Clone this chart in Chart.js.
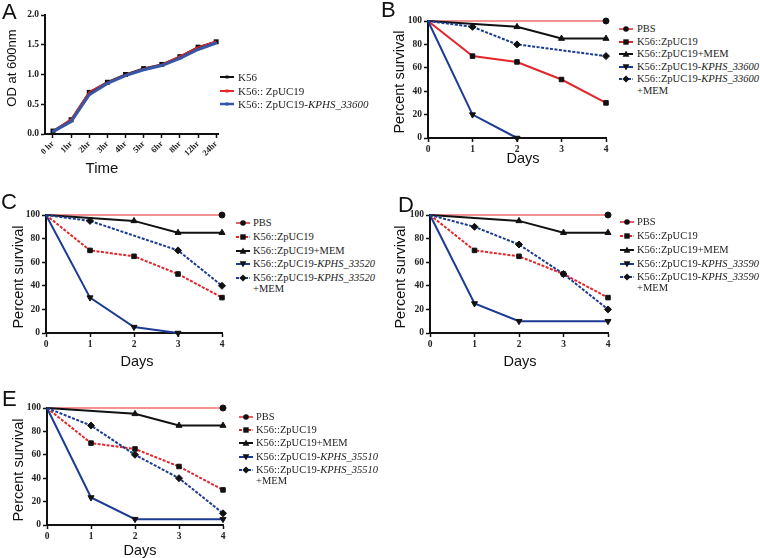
<!DOCTYPE html>
<html lang="en">
<head>
<meta charset="UTF-8">
<title>Growth curve and survival</title>
<script src="https://cdn.jsdelivr.net/npm/chart.js"></script>
<style>
  html, body { margin:0; padding:0; background:#fff; }
  body { width:760px; height:558px; position:relative; overflow:hidden; font-family:'Liberation Sans', Arial, sans-serif; }
  canvas { position:absolute; }
  .letter { position:absolute; font-size:22px; line-height:1; color:#111; }
  .ytitle, .xtitle { position:absolute; white-space:nowrap; line-height:1; color:#111; }
  .ytitle { transform:translate(-50%,-50%) rotate(-90deg); }
  .xtitle { transform:translate(-50%,-50%); }
  .leg { position:absolute; white-space:nowrap; line-height:1; transform:translateY(-50%); color:#222;
         font-family:'Liberation Serif','Times New Roman',serif; }
  svg.mk { position:absolute; }
</style>
</head>
<body>
<script>
// ---- panel A: growth curve ----
const timeLabels = ['0 hr', '1hr', '2hr', '3hr', '4hr', '5hr', '6hr', '8hr', '12hr', '24hr'];
const odK56 = [0.05, 0.24, 0.70, 0.87, 1.00, 1.10, 1.17, 1.30, 1.46, 1.55];
const odZpUC19 = [0.05, 0.25, 0.71, 0.87, 1.00, 1.10, 1.17, 1.31, 1.46, 1.56];
const odKPHS33600 = [0.04, 0.21, 0.66, 0.85, 0.98, 1.08, 1.15, 1.27, 1.42, 1.53];
const odTicks = [0, 0.5, 1.0, 1.5, 2.0];

// ---- panels B-E: survival (null = no mark, line continues) ----
const days = [0, 1, 2, 3, 4];
const survTicks = [0, 20, 40, 60, 80, 100];
const pbs = [100, null, null, null, 100];
const zpuc19 = [100, 70, 65, 50, 30];
const zpuc19Mem = [100, null, 95, 85, 85];
const kphs33600 = [100, 20, 0, null, null];
const kphs33600Mem = [100, 95, 80, null, 70];
const kphs33520 = [100, 30, 5, 0, null];
const kphs33520Mem = [100, 95, null, 70, 40];
const kphs33590 = [100, 25, 10, null, 10];
const kphs33590Mem = [100, 90, 75, 50, 20];
const kphs35510 = [100, 23.5, 5, null, 5];
const kphs35510Mem = [100, 85, 60, 40, 10];

const RED = '#e3262c', NAVY = '#1c3b92', INK = '#111';
const SERIF = "'Liberation Serif','Times New Roman',serif";
const TICK_FONT = { family: SERIF, size: 9.5, weight: 'bold' };

function addDiv(cls, html, x, y, size) {
    let d = document.createElement('div');
    d.className = cls;
    d.innerHTML = html;
    d.style.left = x + 'px';
    d.style.top = y + 'px';
    if (size) d.style.fontSize = size + 'px';
    document.body.appendChild(d);
    return d;
}

function markerSvg(it) {
    let dash = it.dash ? 'stroke-dasharray="3,1.5"' : '';
    let mf = it.markColor || INK;
    let shapes = {
        circle: `<circle cx="7" cy="5" r="2.8" fill="${mf}"/>`,
        rect: `<rect x="4.3" y="2.3" width="5.4" height="5.4" fill="${mf}"/>`,
        triangle: `<polygon points="7,1.6 10.4,7.8 3.6,7.8" fill="${mf}"/>`,
        down: `<polygon points="7,8.4 10.4,2.2 3.6,2.2" fill="${mf}"/>`,
        diamond: `<polygon points="7,1.4 10.6,5 7,8.6 3.4,5" fill="${mf}"/>`,
        small: `<rect x="5.5" y="3.5" width="3" height="3" fill="${mf}"/>`
    };
    return `<line x1="0" y1="5" x2="14" y2="5" stroke="${it.color}" stroke-width="${it.lw || 2}" ${dash}/>` + shapes[it.mark];
}

function addLegend(items, markX, textX, rows, size) {
    let r = 0;
    items.forEach(it => {
        let lines = it.label.split('\n');
        let svg = document.createElementNS('http://www.w3.org/2000/svg', 'svg');
        svg.setAttribute('class', 'mk');
        svg.setAttribute('width', 14);
        svg.setAttribute('height', 10);
        svg.style.left = markX + 'px';
        svg.style.top = (rows[r] - 5) + 'px';
        svg.innerHTML = markerSvg(it);
        document.body.appendChild(svg);
        lines.forEach(t => {
            addDiv('leg', t.replace(/(KPHS_\d+)/, '<i>$1</i>'), textX, rows[r], size);
            r++;
        });
    });
}

function makeChart(box, m, datasets, xs, ys) {
    let l = Math.round(box.l), t = Math.round(box.t), r = Math.round(box.r), b = Math.round(box.b);
    let c = document.createElement('canvas');
    let W = r - l + m.l + m.r, H = b - t + m.t + m.b;
    c.width = W; c.height = H;
    c.style.left = (l - m.l) + 'px';
    c.style.top = (t - m.t) + 'px';
    c.style.width = W + 'px';
    c.style.height = H + 'px';
    document.body.appendChild(c);

    const axis = (o, tickVals, fit) => Object.assign({
        type: 'linear',
        afterBuildTicks: s => { s.ticks = tickVals.map(v => ({ value: v })); },
        afterFit: fit,
        grid: { display: true, drawOnChartArea: false, drawTicks: true, tickLength: 4, tickWidth: 1.5, tickColor: INK, color: INK },
        border: { display: true, color: INK, width: 2 }
    }, o);

    new Chart(c, {
        type: 'line',
        data: { datasets: datasets },
        options: {
            responsive: false,
            animation: false,
            devicePixelRatio: 1,
            layout: { padding: { left: 0, top: m.t, right: m.r, bottom: 0 } },
            plugins: { legend: { display: false }, tooltip: { enabled: false } },
            scales: {
                x: axis(xs.opts, xs.ticks, s => { s.height = m.b; }),
                y: axis(ys.opts, ys.ticks, s => { s.width = m.l; })
            }
        }
    });
}

// ---------- panel A ----------
function odSeries(vals, o) {
    return Object.assign({
        data: vals.map((v, i) => ({ x: i, y: v })),
        clip: false, tension: 0, fill: false, pointBorderWidth: 0
    }, o);
}
makeChart({ l: 45, t: 15, r: 218, b: 134 }, { l: 44, t: 8, r: 10, b: 36 }, [
    odSeries(odKPHS33600, { borderColor: '#3557a6', borderWidth: 3, pointRadius: 1.5, pointStyle: 'rect', pointBackgroundColor: '#3557a6', order: 0 }),
    odSeries(odZpUC19, { borderColor: RED, borderWidth: 1.3, pointRadius: 0, order: 1 }),
    odSeries(odK56, { borderColor: INK, borderWidth: 2, pointRadius: 3.5, pointStyle: 'rect', pointBackgroundColor: INK, order: 2 })
], {
    ticks: timeLabels.map((_, i) => i),
    opts: { min: -0.44, max: 9.1,
        ticks: { color: '#222', font: { family: SERIF, size: 8.5, weight: 'bold' }, padding: 1, minRotation: 45, maxRotation: 45, autoSkip: false,
                 callback: v => timeLabels[v] } }
}, {
    ticks: odTicks,
    opts: { min: 0, max: 2, ticks: { color: '#222', font: TICK_FONT, padding: 2, callback: v => v.toFixed(1) } }
});
addDiv('letter', 'A', 2, 1);
addDiv('ytitle', 'OD at 600nm', 11, 68, 13);
addDiv('xtitle', 'Time', 102, 167, 15);
addLegend([
    { label: 'K56', color: INK, mark: 'small' },
    { label: 'K56:: ZpUC19', color: RED, mark: 'small', markColor: RED },
    { label: 'K56:: ZpUC19-KPHS_33600', color: '#3557a6', mark: 'small', markColor: '#3557a6', lw: 2.5 }
], 220, 238, [77, 91, 104], 11);

// ---------- panels B-E ----------
function survSeries(vals, r, o) {
    return Object.assign({
        data: days.map((d, i) => ({ x: d, y: vals[i] })),
        spanGaps: true, clip: false, tension: 0, fill: false, borderWidth: 2,
        pointRadius: ctx => ctx.dataIndex === 0 ? 0 : r,
        pointBackgroundColor: INK, pointBorderColor: INK, pointBorderWidth: 1
    }, o);
}

function survivalPanel(p) {
    let redDash = p.redDashed ? [3, 1.5] : [];
    makeChart(p.box, { l: 40, t: 8, r: 10, b: 26 }, [
        survSeries(p.gene, 3.5, { borderColor: NAVY, pointStyle: 'triangle', pointRotation: 180, order: 0 }),
        survSeries(p.geneMem, 3.5, { borderColor: NAVY, borderDash: [3, 1.5], pointStyle: 'rectRot', order: 1 }),
        survSeries(zpuc19, 3.2, { borderColor: RED, borderDash: redDash, pointStyle: 'rect', order: 2 }),
        survSeries(zpuc19Mem, 3.5, { borderColor: INK, pointStyle: 'triangle', order: 3 }),
        survSeries(pbs, 3, { borderColor: RED, borderWidth: 1.2, pointStyle: 'circle', order: 4 })
    ], {
        ticks: days,
        opts: { min: 0, max: 4, ticks: { color: '#222', font: TICK_FONT, padding: 2 } }
    }, {
        ticks: survTicks,
        opts: { min: 0, max: 100, ticks: { color: '#222', font: TICK_FONT, padding: 2 } }
    });
    addDiv('letter', p.letter, p.letterPos[0], p.letterPos[1]);
    addDiv('ytitle', 'Percent survival', p.yTitle[0], p.yTitle[1], 14.5);
    addDiv('xtitle', 'Days', p.xTitle[0], p.xTitle[1], 14.5);
    addLegend([
        { label: 'PBS', color: RED, mark: 'circle', lw: 1.5 },
        { label: 'K56::ZpUC19', color: RED, mark: 'rect', dash: p.redDashed },
        { label: 'K56::ZpUC19+MEM', color: INK, mark: 'triangle' },
        { label: 'K56::ZpUC19-' + p.name, color: NAVY, mark: 'down' },
        { label: 'K56::ZpUC19-' + p.name + '\n+MEM', color: NAVY, mark: 'diamond', dash: true }
    ], p.legend.markX, p.legend.textX, p.legend.rows, 10.5);
}

survivalPanel({
    letter: 'B', letterPos: [381, -1], name: 'KPHS_33600', gene: kphs33600, geneMem: kphs33600Mem, redDashed: false,
    box: { l: 428, t: 21, r: 606, b: 138 }, yTitle: [399, 82], xTitle: [523, 158],
    legend: { markX: 619, textX: 637, rows: [29, 41.5, 54, 66.5, 79, 91] }
});
survivalPanel({
    letter: 'C', letterPos: [1, 191], name: 'KPHS_33520', gene: kphs33520, geneMem: kphs33520Mem, redDashed: true,
    box: { l: 46, t: 215, r: 222, b: 333 }, yTitle: [18, 277], xTitle: [137, 361],
    legend: { markX: 236, textX: 253, rows: [223, 237, 251, 264, 278, 289] }
});
survivalPanel({
    letter: 'D', letterPos: [398, 194], name: 'KPHS_33590', gene: kphs33590, geneMem: kphs33590Mem, redDashed: true,
    box: { l: 430, t: 215, r: 608, b: 333 }, yTitle: [400, 277], xTitle: [520, 361],
    legend: { markX: 620, textX: 637, rows: [222, 236, 250, 264, 277, 288] }
});
survivalPanel({
    letter: 'E', letterPos: [2, 388], name: 'KPHS_35510', gene: kphs35510, geneMem: kphs35510Mem, redDashed: true,
    box: { l: 47, t: 408, r: 223, b: 525 }, yTitle: [18, 470], xTitle: [140, 550],
    legend: { markX: 239, textX: 256, rows: [417, 430, 443, 457, 470, 481] }
});
</script>
</body>
</html>
